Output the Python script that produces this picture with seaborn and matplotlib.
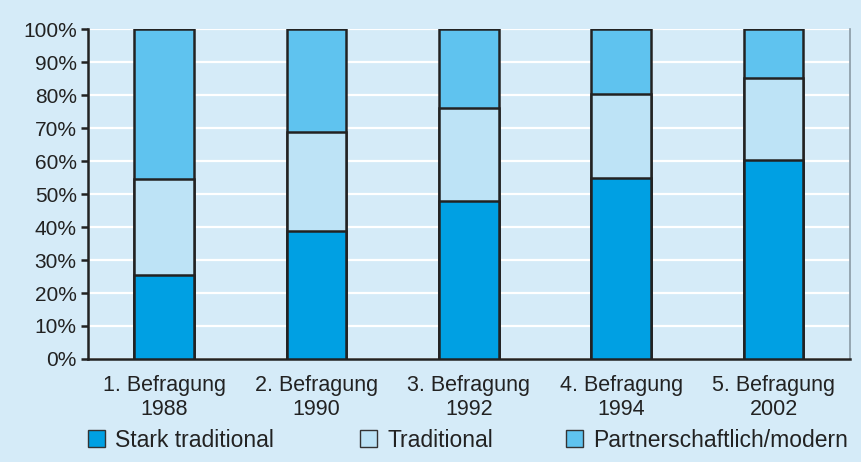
import numpy as np
import pandas as pd
import seaborn as sns
import matplotlib.pyplot as plt
from matplotlib.patches import Patch

labels = ['1. Befragung\n1988', '2. Befragung\n1990', '3. Befragung\n1992',
          '4. Befragung\n1994', '5. Befragung\n2002']
stark = [25.5, 38.7, 47.9, 54.8, 60.2]
traditional = [29.0, 30.0, 28.1, 25.5, 25.0]
partner = [45.5, 31.3, 24.0, 19.7, 14.8]

series = ['Stark traditional', 'Traditional', 'Partnerschaftlich/modern']
colors = ['#00a0e3', '#bde3f6', '#5fc3ef']

df = pd.DataFrame({'label': labels, 'stark': stark, 'trad': traditional, 'partner': partner})
df['c1'] = df['stark']
df['c2'] = df['stark'] + df['trad']
df['c3'] = df['c2'] + df['partner']

bg = '#d5ebf8'
sns.set_style('white')
plt.rcParams['font.family'] = ['Liberation Sans', 'DejaVu Sans']

fig = plt.figure(figsize=(8.61, 4.62), dpi=100, facecolor=bg)
ax = fig.add_axes([0.102, 0.223, 0.885, 0.714])
ax.set_facecolor(bg)

# stack drawn back to front
for col, c in zip(['c3', 'c2', 'c1'], colors[::-1]):
    sns.barplot(data=df, x='label', y=col, color=c, width=0.39, saturation=1,
                edgecolor='#222222', linewidth=1.8, ax=ax, zorder=3)

ax.set_ylim(0, 100)
ax.set_xlim(-0.5, 4.5)
ax.set_yticks(np.arange(0, 101, 10))
ax.set_yticklabels([f'{v}%' for v in range(0, 101, 10)])
ax.yaxis.grid(True, color='white', linewidth=1.6, zorder=0)
ax.set_axisbelow(True)
ax.set_xlabel('')
ax.set_ylabel('')
ax.spines['top'].set_visible(False)
ax.spines['right'].set_color('#8a9aa5')
ax.spines['right'].set_linewidth(1.2)
for s in ['left', 'bottom']:
    ax.spines[s].set_color('#222222')
    ax.spines[s].set_linewidth(1.8)
ax.tick_params(axis='y', left=True, length=5, width=1.8, color='#222222',
               labelsize=15, labelcolor='#222222', pad=3)
ax.tick_params(axis='x', bottom=False, labelsize=15.5, labelcolor='#222222', pad=8)

# legend entries placed one by one, like the original
for (name, c, xpos) in zip(series, colors, [0.102, 0.418, 0.657]):
    h = Patch(facecolor=c, edgecolor='#333333', linewidth=1.0)
    fig.legend([h], [name], loc='center left', bbox_to_anchor=(xpos, 0.047),
               frameon=False, fontsize=16.5, handlelength=0.75, handleheight=0.75,
               handletextpad=0.45, borderpad=0, borderaxespad=0, labelcolor='#222222')

fig.savefig('out.png', dpi=100, facecolor=bg)
